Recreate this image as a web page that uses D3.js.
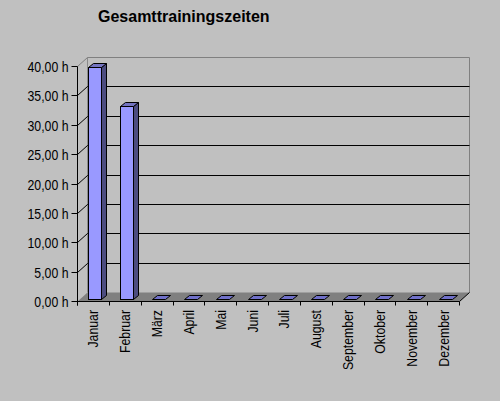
<!DOCTYPE html>
<html>
<head>
<meta charset="utf-8">
<script src="https://cdn.jsdelivr.net/npm/d3@7"></script>
<style>
  html, body { margin: 0; padding: 0; background: #c0c0c0; }
  svg { display: block; }
  text { font-family: Arial, "Liberation Sans", sans-serif; fill: #000; }
</style>
</head>
<body>
<svg id="chart" width="500" height="401"></svg>
<script>
const title = "Gesamttrainingszeiten";
const months = ["Januar","Februar","März","April","Mai","Juni","Juli","August","September","Oktober","November","Dezember"];
const hours = [39.5, 32.8, 0, 0, 0, 0, 0, 0, 0, 0, 0, 0];
const yTicks = [0, 5, 10, 15, 20, 25, 30, 35, 40];

const svg = d3.select("#chart");
svg.append("rect").attr("width", 500).attr("height", 401).attr("fill", "#c0c0c0");

const x0 = 77.5, x1 = 459.5, yZero = 301.5, yTop = 66.5;
const dx = 10, dy = -9;             // depth of the 3D box
const fdx = 2, fdy = -2;            // bar front offset into depth
const bdx = 5, bdy = -4;            // bar depth
const barW = 13;
const snap = v => Math.round(v - 0.5) + 0.5;

const x = d3.scaleBand().domain(months).range([x0, x1]).padding(0);
const y = d3.scaleLinear().domain([0, 40]).range([yZero, yTop]);

// floor
svg.append("polygon")
  .attr("points", [[x0, yZero], [x1, yZero], [x1 + dx, yZero + dy], [x0 + dx, yZero + dy]].map(p => p.join(",")).join(" "))
  .attr("fill", "#808080");

// back wall edges
svg.append("line").attr("x1", x0 + dx).attr("x2", x0 + dx).attr("y1", snap(y(40)) + dy).attr("y2", yZero + dy)
  .attr("stroke", "#8a8a8a").attr("stroke-width", 1);
svg.append("line").attr("x1", x1 + dx).attr("x2", x1 + dx).attr("y1", snap(y(40)) + dy).attr("y2", yZero + dy)
  .attr("stroke", "#808080").attr("stroke-width", 1);

// gridlines on back wall + diagonals on side wall
yTicks.filter(v => v > 0).forEach(v => {
  const col = v === 40 ? "#808080" : "#000";
  const yy = snap(y(v));
  svg.append("line")
    .attr("x1", x0 + dx).attr("x2", x1 + dx)
    .attr("y1", yy + dy).attr("y2", yy + dy)
    .attr("stroke", col).attr("stroke-width", 1);
  svg.append("line")
    .attr("x1", x0).attr("x2", x0 + dx)
    .attr("y1", yy).attr("y2", yy + dy)
    .attr("stroke", col).attr("stroke-width", 1);
});

// bars
const bars = svg.append("g");
months.forEach((m, i) => {
  const v = hours[i];
  const xl = snap(x(m) + x.bandwidth() / 2 - barW / 2 + fdx);
  const xr = xl + barW;
  const yb = y(0) + fdy;
  const yt = snap(y(v) + fdy);
  const pts = a => a.map(p => p.join(",")).join(" ");
  if (v > 0) {
    bars.append("rect").attr("x", xl).attr("y", yt).attr("width", barW).attr("height", yb - yt)
      .attr("fill", "#9999ff").attr("stroke", "#000").attr("stroke-width", 1);
    bars.append("polygon").attr("points", pts([[xr, yt], [xr + bdx, yt + bdy], [xr + bdx, yb + bdy], [xr, yb]]))
      .attr("fill", "#4c4c80").attr("stroke", "#000").attr("stroke-width", 1);
  }
  bars.append("polygon").attr("points", pts([[xl, yt], [xr, yt], [xr + bdx, yt + bdy], [xl + bdx, yt + bdy]]))
    .attr("fill", v > 0 ? "#7373c0" : "#7070c8").attr("stroke", "#000").attr("stroke-width", 1);
});

// front x axis line and right diagonal
svg.append("line").attr("x1", x0).attr("x2", x1).attr("y1", yZero).attr("y2", yZero)
  .attr("stroke", "#000").attr("stroke-width", 1);
svg.append("line").attr("x1", x1).attr("x2", x1 + dx).attr("y1", yZero).attr("y2", yZero + dy)
  .attr("stroke", "#000").attr("stroke-width", 1);

// category ticks
const xTickPos = months.map(m => x(m)).concat([x1]);
xTickPos.forEach(px => {
  const xx = snap(px);
  svg.append("line").attr("x1", xx).attr("x2", xx).attr("y1", yZero).attr("y2", yZero + 4)
    .attr("stroke", "#000").attr("stroke-width", 1);
});

// y axis
svg.append("line").attr("x1", x0).attr("x2", x0).attr("y1", snap(y(40))).attr("y2", yZero + 4)
  .attr("stroke", "#000").attr("stroke-width", 1);
const fmt = v => v.toFixed(2).replace(".", ",") + " h";
yTicks.forEach(v => {
  const yy = snap(y(v));
  svg.append("line").attr("x1", x0 - 6).attr("x2", x0).attr("y1", yy).attr("y2", yy)
    .attr("stroke", "#000").attr("stroke-width", 1);
  svg.append("text")
    .attr("transform", `translate(68.5, ${y(v) + 5.5}) scale(0.82,1)`)
    .attr("text-anchor", "end")
    .style("font-size", "15px")
    .text(fmt(v));
});

// category labels
months.forEach(m => {
  const cx = x(m) + x.bandwidth() / 2 + 5;
  svg.append("text")
    .attr("transform", `translate(${cx}, 310) rotate(-90) scale(0.82,1)`)
    .attr("text-anchor", "end")
    .style("font-size", "15px")
    .text(m);
});

// title
svg.append("text")
  .attr("x", 98).attr("y", 21.5)
  .style("font-size", "16px").style("font-weight", "bold")
  .text(title);
</script>
</body>
</html>
